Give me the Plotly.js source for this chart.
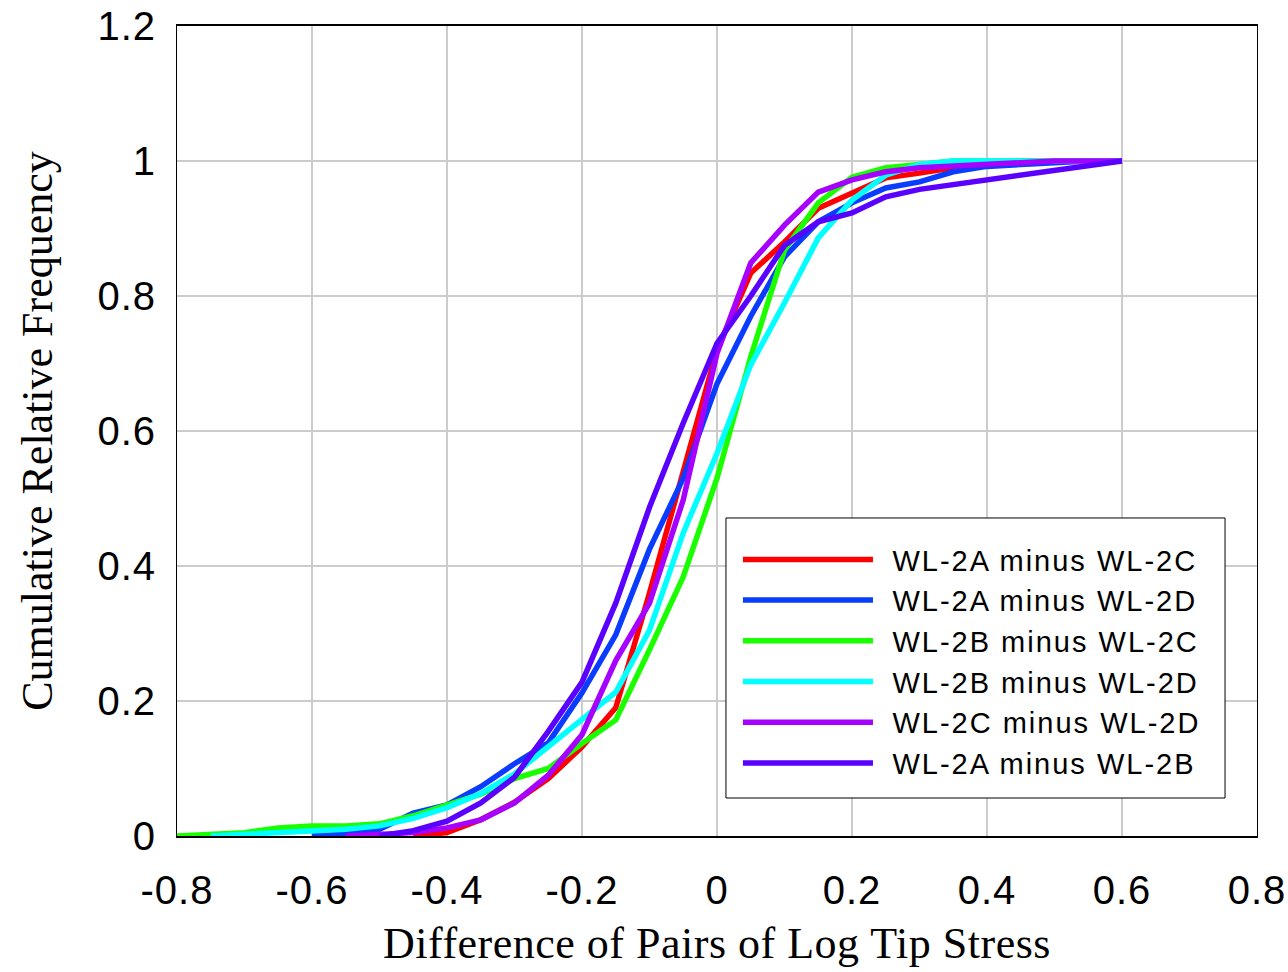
<!DOCTYPE html>
<html>
<head>
<meta charset="utf-8">
<script src="https://cdn.plot.ly/plotly-3.0.1.min.js"></script>
<style>
  html, body { margin: 0; padding: 0; background: #ffffff; }
  #chart { width: 1288px; height: 972px; }
  .xtick text, .ytick text { letter-spacing: 1px; }
  .xtitle { letter-spacing: 0.5px; }
  .legendtext { letter-spacing: 2px; }
</style>
</head>
<body>
<div id="chart"></div>
<script>
// ---- Data ----
var seriesNames = [
  "WL-2A minus WL-2C",
  "WL-2A minus WL-2D",
  "WL-2B minus WL-2C",
  "WL-2B minus WL-2D",
  "WL-2C minus WL-2D",
  "WL-2A minus WL-2B"
];
var seriesColors = ["#ff0000", "#0a3cff", "#1aff00", "#00ffff", "#a600ff", "#5a00ff"];

var x_2A_2C = [-0.45,-0.4,-0.35,-0.3,-0.25,-0.2,-0.15,-0.1,-0.05,0,0.05,0.1,0.15,0.2,0.25,0.3,0.35,0.4,0.45,0.5,0.55,0.6];
var y_2A_2C = [0,0.005,0.024,0.05,0.085,0.132,0.19,0.36,0.54,0.72,0.834,0.88,0.93,0.952,0.975,0.982,0.99,0.995,1,1,1,1];

var x_2A_2D = [-0.6,-0.55,-0.5,-0.45,-0.4,-0.35,-0.3,-0.25,-0.2,-0.15,-0.1,-0.05,0,0.05,0.1,0.15,0.2,0.25,0.3,0.35,0.4,0.45,0.5,0.55,0.6];
var y_2A_2D = [0,0.003,0.01,0.034,0.046,0.073,0.107,0.138,0.212,0.298,0.425,0.53,0.67,0.77,0.858,0.91,0.938,0.96,0.969,0.984,0.992,0.995,0.998,1,1];

var x_2B_2C = [-0.8,-0.75,-0.7,-0.65,-0.6,-0.55,-0.5,-0.45,-0.4,-0.35,-0.3,-0.25,-0.2,-0.15,-0.1,-0.05,0,0.05,0.1,0.15,0.2,0.25,0.3,0.35,0.4,0.45,0.5,0.55,0.6];
var y_2B_2C = [0,0.003,0.005,0.012,0.015,0.015,0.018,0.03,0.045,0.062,0.085,0.1,0.137,0.172,0.276,0.384,0.53,0.71,0.868,0.938,0.976,0.99,0.995,1,1,1,1,1,1];

var x_2B_2D = [-0.75,-0.7,-0.65,-0.6,-0.55,-0.5,-0.45,-0.4,-0.35,-0.3,-0.25,-0.2,-0.15,-0.1,-0.05,0,0.05,0.1,0.15,0.2,0.25,0.3,0.35,0.4,0.45,0.5,0.55,0.6];
var y_2B_2D = [0,0.002,0.004,0.007,0.01,0.015,0.026,0.042,0.063,0.092,0.132,0.172,0.213,0.305,0.449,0.567,0.698,0.79,0.886,0.942,0.979,0.995,1,1,1,1,1,1];

var x_2C_2D = [-0.55,-0.5,-0.45,-0.4,-0.35,-0.3,-0.25,-0.2,-0.15,-0.1,-0.05,0,0.05,0.1,0.15,0.2,0.25,0.3,0.35,0.4,0.45,0.5,0.55,0.6];
var y_2C_2D = [0,0.002,0.005,0.012,0.024,0.049,0.09,0.15,0.26,0.345,0.498,0.715,0.849,0.905,0.954,0.972,0.984,0.99,0.993,0.995,0.997,1,1,1];

var x_2A_2B = [-0.5,-0.45,-0.4,-0.35,-0.3,-0.25,-0.2,-0.15,-0.1,-0.05,0,0.05,0.1,0.15,0.2,0.25,0.3,0.35,0.4,0.45,0.5,0.55,0.6];
var y_2A_2B = [0,0.008,0.022,0.049,0.087,0.155,0.228,0.345,0.487,0.612,0.73,0.8,0.875,0.91,0.923,0.947,0.958,0.965,0.972,0.978,0.984,0.992,1];

var xTickVals = [-0.8,-0.6,-0.4,-0.2,0,0.2,0.4,0.6,0.8];
var xTickLabels = ["-0.8","-0.6","-0.4","-0.2","0","0.2","0.4","0.6","0.8"];
var yTickVals = [0,0.2,0.4,0.6,0.8,1,1.2];
var yTickLabels = ["0","0.2","0.4","0.6","0.8","1","1.2"];

var xTitle = "Difference of Pairs of Log Tip Stress";
var yTitle = "Cumulative Relative Frequency";

// ---- Build traces ----
var xs = [x_2A_2C, x_2A_2D, x_2B_2C, x_2B_2D, x_2C_2D, x_2A_2B];
var ys = [y_2A_2C, y_2A_2D, y_2B_2C, y_2B_2D, y_2C_2D, y_2A_2B];
var gap = "\u00a0\u200a";
var traces = [];
for (var i = 0; i < seriesNames.length; i++) {
  traces.push({
    type: "scatter",
    mode: "lines",
    name: gap + seriesNames[i],
    x: xs[i],
    y: ys[i],
    line: { color: seriesColors[i], width: 5.5 },
    hoverinfo: "skip"
  });
}

var sansFont = "Liberation Sans, Arial, sans-serif";
var serifFont = "Liberation Serif, Times New Roman, serif";

var layout = {
  width: 1288,
  height: 972,
  paper_bgcolor: "#ffffff",
  plot_bgcolor: "#ffffff",
  margin: { l: 177, r: 31, t: 26, b: 136 },
  showlegend: true,
  legend: {
    x: 0.5194, y: 0.3728, xanchor: "left", yanchor: "top",
    bgcolor: "rgba(0,0,0,0)",
    borderwidth: 0,
    font: { family: sansFont, size: 29, color: "#000000" },
    itemwidth: 130,
    tracegroupgap: 0
  },
  shapes: [{
    type: "rect", xref: "paper", yref: "paper", layer: "above",
    x0: 0.5083, x1: 0.9704, y0: 0.0469, y1: 0.3926,
    fillcolor: "#ffffff",
    line: { color: "#000000", width: 1 }
  }],
  xaxis: {
    range: [-0.8, 0.8],
    tickmode: "array",
    tickvals: xTickVals,
    ticktext: xTickLabels,
    showgrid: true,
    gridcolor: "#cccccc",
    gridwidth: 1.5,
    zeroline: false,
    showline: true,
    linecolor: "#000000",
    linewidth: 2,
    mirror: true,
    ticks: "",
    ticklabelstandoff: 18,
    tickfont: { family: sansFont, size: 40, color: "#000000" },
    title: { text: xTitle, font: { family: serifFont, size: 44, color: "#000000" }, standoff: 16 }
  },
  yaxis: {
    range: [0, 1.2],
    tickmode: "array",
    tickvals: yTickVals,
    ticktext: yTickLabels,
    showgrid: true,
    gridcolor: "#cccccc",
    gridwidth: 1.5,
    zeroline: false,
    showline: true,
    linecolor: "#000000",
    linewidth: 1,
    mirror: true,
    ticks: "",
    ticklabelstandoff: 12,
    tickfont: { family: sansFont, size: 40, color: "#000000" },
    title: { text: yTitle, font: { family: serifFont, size: 44, color: "#000000" }, standoff: 30 }
  }
};

Plotly.newPlot("chart", traces, layout, { staticPlot: true, displayModeBar: false });
</script>
</body>
</html>
